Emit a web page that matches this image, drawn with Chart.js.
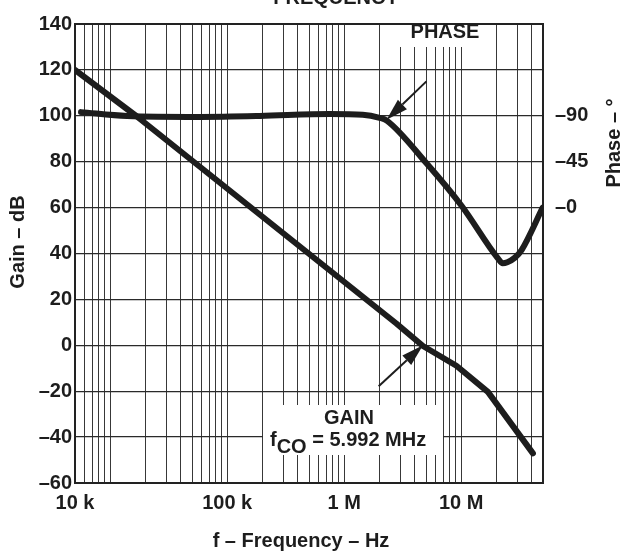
<!DOCTYPE html>
<html>
<head>
<meta charset="utf-8">
<script src="https://cdn.jsdelivr.net/npm/chart.js@4/dist/chart.umd.min.js"></script>
<style>
  html, body { margin: 0; padding: 0; background: #fff; }
  #wrap { width: 624px; height: 558px; }
</style>
</head>
<body>
<div id="wrap"><canvas id="c" width="624" height="558"></canvas></div>
<script>
// ---- data ----
const gainFreqHz = [5.0e3, 16.8e3, 2.79e6, 4.71e6, 9.09e6, 16.9e6, 41.0e6];
const gainDb     = [120, 99.8, 9.5, -0.3, -8.9, -20.3, -47.1];

const phaseFreqHz = [5.63e3, 13.9e3, 58.3e3, 190e3, 753e3, 1.44e6, 2.01e6, 2.31e6, 5.07e6, 10.1e6, 20.5e6, 22.6e6, 24.8e6, 28.6e6, 32.8e6, 49.7e6];
const phaseDeg    = [-93.6, -89.8, -88.9, -89.8, -91.8, -91.1, -88.0, -85.3, -43.2, -1.6, 49.5, 54.5, 53.5, 49.3, 41.6, 0];

const xTickValues = [5e3, 1e5, 1e6, 1e7];
const xTickLabels = ['10 k', '100 k', '1 M', '10 M'];
const gainTicks   = [-60, -40, -20, 0, 20, 40, 60, 80, 100, 120, 140];
const phaseTicks  = [-90, -45, 0];
const phaseTickLabels = ['\u201390', '\u201345', '\u20130'];

const titleText = 'FREQUENCY';
const xTitle = 'f \u2013 Frequency \u2013 Hz';
const yTitle = 'Gain \u2013 dB';
const y2Title = 'Phase \u2013 \u00b0';
const phaseLabel = 'PHASE';
const gainLabel = 'GAIN';
const fcoLabel = ['f', 'CO', ' = 5.992 MHz'];

// ---- styling ----
const FONT = 'Liberation Sans, Arial, Helvetica, sans-serif';
const INK = '#1d1d1d';
const GRID = '#383838';

function gridValues(min, max) {
  const v = [];
  for (let d = 1e3; d <= 1e8; d *= 10) {
    for (let m = 1; m <= 9; m++) {
      const t = m * d;
      if (t >= min * 0.999 && t <= max * 1.001) v.push(t);
    }
  }
  return v;
}

const annotations = {
  id: 'annotations',
  beforeDatasetsDraw(chart) {
    const {ctx, chartArea: a} = chart;
    ctx.save();
    ctx.fillStyle = '#fff';
    // white box behind PHASE label
    ctx.fillRect(392, 20, 96, 27);
    // white box behind GAIN label
    ctx.fillRect(263, 405, 180, 50);
    // plot frame
    ctx.strokeStyle = '#222';
    ctx.lineWidth = 2;
    ctx.strokeRect(a.left, a.top, a.right - a.left, a.bottom - a.top);
    ctx.restore();
  },
  afterDraw(chart) {
    const {ctx, scales} = chart;
    const xs = scales.x, ys = scales.y;
    ctx.save();
    ctx.fillStyle = INK;
    ctx.textBaseline = 'alphabetic';
    ctx.font = 'bold 20px ' + FONT;
    // chart title (cut off at top)
    ctx.textAlign = 'center';
    ctx.fillText(titleText, 336, 4);
    // x axis title
    ctx.textBaseline = 'middle';
    ctx.fillText(xTitle, 301, 541);
    // left axis title
    ctx.save();
    ctx.translate(18, 242);
    ctx.rotate(-Math.PI / 2);
    ctx.fillText(yTitle, 0, 0);
    ctx.restore();
    // right axis title
    ctx.save();
    ctx.translate(614, 143);
    ctx.rotate(-Math.PI / 2);
    ctx.fillText(y2Title, 0, 0);
    ctx.restore();
    // PHASE label
    ctx.fillText(phaseLabel, 445, 32);
    // GAIN label
    ctx.fillText(gainLabel, 349, 418);
    // fCO = 5.992 MHz
    ctx.textAlign = 'left';
    ctx.textBaseline = 'alphabetic';
    let x = 270;
    const base = 446;
    ctx.fillText(fcoLabel[0], x, base);
    x += ctx.measureText(fcoLabel[0]).width;
    ctx.fillText(fcoLabel[1], x, base + 7);
    x += ctx.measureText(fcoLabel[1]).width;
    ctx.fillText(fcoLabel[2], x, base);

    // arrows
    function arrow(x1, y1, x2, y2) {
      const ang = Math.atan2(y2 - y1, x2 - x1);
      const len = 22, half = 6.5;
      const bx = x2 - len * Math.cos(ang), by = y2 - len * Math.sin(ang);
      ctx.strokeStyle = INK;
      ctx.lineWidth = 2;
      ctx.beginPath();
      ctx.moveTo(x1, y1);
      ctx.lineTo(bx, by);
      ctx.stroke();
      ctx.beginPath();
      ctx.moveTo(x2, y2);
      ctx.lineTo(bx + half * Math.sin(ang), by - half * Math.cos(ang));
      ctx.lineTo(bx - half * Math.sin(ang), by + half * Math.cos(ang));
      ctx.closePath();
      ctx.fill();
    }
    arrow(xs.getPixelForValue(5.04e6), ys.getPixelForValue(115),
          xs.getPixelForValue(2.30e6), ys.getPixelForValue(98.3));
    arrow(xs.getPixelForValue(1.97e6), ys.getPixelForValue(-17.8),
          xs.getPixelForValue(4.71e6), ys.getPixelForValue(0));
    ctx.restore();
  }
};

const tickFont = {family: FONT, size: 20, weight: 'bold'};

new Chart(document.getElementById('c'), {
  type: 'line',
  data: {
    datasets: [
      {
        label: 'Gain',
        data: gainFreqHz.map((f, i) => ({x: f, y: gainDb[i]})),
        yAxisID: 'y',
        borderColor: INK,
        borderWidth: 6,
        pointRadius: 0,
        tension: 0,
        borderCapStyle: 'round',
        borderJoinStyle: 'round',
        fill: false
      },
      {
        label: 'Phase',
        data: phaseFreqHz.map((f, i) => ({x: f, y: phaseDeg[i]})),
        yAxisID: 'yPhase',
        borderColor: INK,
        borderWidth: 6,
        pointRadius: 0,
        cubicInterpolationMode: 'monotone',
        borderCapStyle: 'round',
        borderJoinStyle: 'round',
        fill: false
      }
    ]
  },
  options: {
    responsive: false,
    animation: false,
    events: [],
    layout: {padding: {top: 14, left: 0, right: 0, bottom: 0}},
    plugins: {legend: {display: false}, tooltip: {enabled: false}, title: {display: false}},
    scales: {
      x: {
        type: 'logarithmic',
        min: 5e3,
        max: 5e7,
        afterBuildTicks(s) { s.ticks = gridValues(5e3, 5e7).map(v => ({value: v})); },
        afterFit(s) { s.height = 75; },
        grid: {color: GRID, lineWidth: 1, drawTicks: false},
        border: {display: false},
        ticks: {
          autoSkip: false, maxRotation: 0, minRotation: 0, padding: 8,
          color: INK, font: tickFont,
          callback(v) {
            const i = xTickValues.findIndex(t => Math.abs(t - v) / t < 1e-6);
            return i >= 0 ? xTickLabels[i] : '';
          }
        }
      },
      y: {
        type: 'linear',
        position: 'left',
        min: -60,
        max: 140,
        afterBuildTicks(s) { s.ticks = gainTicks.map(v => ({value: v})); },
        afterFit(s) { s.width = 75; },
        grid: {color: '#2a2a2a', lineWidth: 1.3, drawTicks: false},
        border: {display: false},
        ticks: {
          padding: 3, color: INK, font: tickFont,
          callback(v) { return v < 0 ? '\u2013' + Math.abs(v) : String(v); }
        }
      },
      yPhase: {
        type: 'linear',
        position: 'right',
        reverse: true,
        min: -180,
        max: 270,
        afterBuildTicks(s) { s.ticks = phaseTicks.map(v => ({value: v})); },
        afterFit(s) { s.width = 81; },
        grid: {display: false, drawTicks: false},
        border: {display: false},
        ticks: {
          padding: 12, color: INK, font: tickFont,
          callback(v) {
            const i = phaseTicks.indexOf(v);
            return i >= 0 ? phaseTickLabels[i] : '';
          }
        }
      }
    }
  },
  plugins: [annotations]
});
</script>
</body>
</html>
